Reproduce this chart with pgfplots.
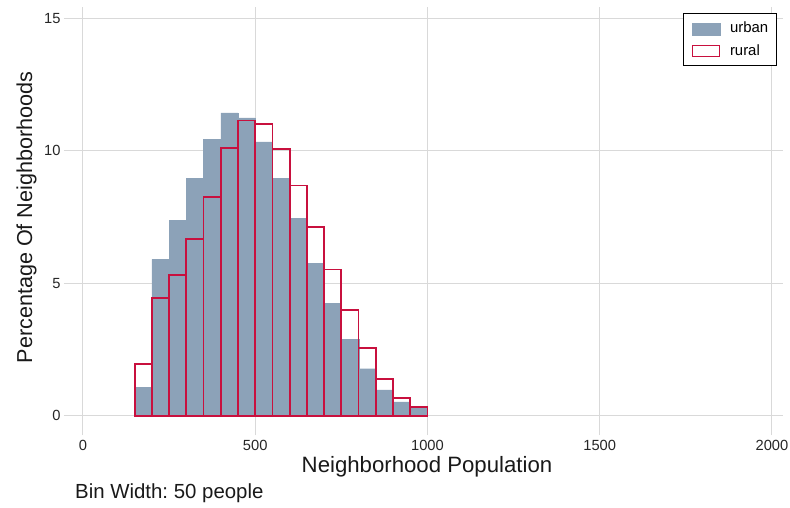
\documentclass[border=0pt]{standalone}
\usepackage{fontspec}
\setmainfont{Liberation Sans}
\usepackage{pgfplots}
\pgfplotsset{compat=1.18}
\definecolor{urbanc}{HTML}{8CA2B8}
\definecolor{ruralc}{HTML}{C8103E}
\definecolor{gridc}{HTML}{D9D9D9}
\frenchspacing
\begin{document}
\begin{tikzpicture}
\useasboundingbox (0pt,0pt) rectangle (790pt,-507pt);
\begin{axis}[
  at={(64pt,-435pt)}, anchor=south west,
  scale only axis, width=719pt, height=428pt,
  xmin=-55, xmax=2032, ymin=-0.72, ymax=15.42,
  xtick={0,500,1000,1500,2000}, ytick={0,5,10,15},
  grid=major, grid style={gridc, line width=1pt},
  axis line style={draw=none},
  major tick length=0pt, tick style={draw=none},
  /pgf/number format/assume math mode=true,
  /pgf/number format/1000 sep={},
  ticklabel style={font=\fontsize{14.7}{17}\selectfont, black!85},
  xticklabel style={yshift=-2pt},
  legend style={at={(rel axis cs:0.9917,0.986)}, anchor=north east,
    draw=black, line width=0.8pt, font=\fontsize{14.9}{18}\selectfont,
    inner xsep=8.5pt, inner ysep=8.5pt, row sep=9.5pt, column sep=10pt,
    nodes={inner sep=0pt},
    cells={anchor=base west}},
]
\addplot[ybar, bar width=50, bar shift=0pt, fill=urbanc, draw=urbanc, line width=0.1pt,
  legend image code/.code={\fill[urbanc] (0pt,-2pt) rectangle (28pt,10pt);}] coordinates {
(175,1.07) (225,5.90) (275,7.38) (325,8.97) (375,10.44) (425,11.43)
(475,11.24) (525,10.33) (575,8.97) (625,7.45) (675,5.75) (725,4.24)
(775,2.88) (825,1.78) (875,0.98) (925,0.53) (975,0.30)
};
\addlegendentry{urban}
\addplot[ybar, bar width=50, bar shift=0pt, fill=none, draw=ruralc, line width=1.8pt,
  legend image code/.code={\draw[ruralc, line width=1.2pt] (0.6pt,-1.4pt) rectangle (27.4pt,9.4pt);}] coordinates {
(175,1.97) (225,4.44) (275,5.32) (325,6.67) (375,8.26) (425,10.10)
(475,11.14) (525,11.02) (575,10.06) (625,8.69) (675,7.11) (725,5.52)
(775,3.98) (825,2.55) (875,1.39) (925,0.68) (975,0.33)
};
\addlegendentry{rural}
\end{axis}
\node[anchor=base, font=\fontsize{22.2}{26}\selectfont, black!90] at (427pt,-472pt) {Neighborhood Population};
\node[anchor=base, rotate=90, font=\fontsize{21.6}{26}\selectfont, black!90] at (32pt,-217.5pt) {Percentage Of Neighborhoods};
\node[anchor=base west, inner sep=0pt, font=\fontsize{20.4}{24}\selectfont, black!90] at (75pt,-498pt) {Bin Width: 50 people};
\end{tikzpicture}
\end{document}
